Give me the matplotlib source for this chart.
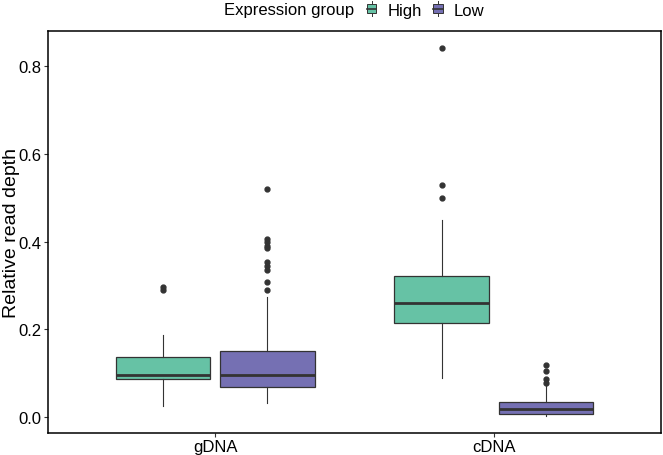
import matplotlib
matplotlib.use("Agg")
import matplotlib.pyplot as plt
from matplotlib.legend_handler import HandlerBase
from matplotlib.patches import Rectangle
from matplotlib.lines import Line2D

plt.rcParams['font.family'] = ['Liberation Sans', 'DejaVu Sans']

# data (box stats per sample type / expression group)
categories = ["gDNA", "cDNA"]
groups = ["High", "Low"]
colors = ["#66C2A5", "#7570B3"]

q1 = {"High": [0.087, 0.214], "Low": [0.068, 0.008]}
med = {"High": [0.097, 0.259], "Low": [0.096, 0.018]}
q3 = {"High": [0.136, 0.322], "Low": [0.151, 0.035]}
wlo = {"High": [0.026, 0.090], "Low": [0.032, 0.003]}
whi = {"High": [0.187, 0.449], "Low": [0.274, 0.072]}
fliers = {
    "High": [[0.296, 0.290], [0.841, 0.528, 0.499]],
    "Low": [[0.520, 0.405, 0.398, 0.390, 0.385, 0.353, 0.345, 0.336, 0.307, 0.290],
            [0.119, 0.104, 0.087, 0.077]],
}

edge = "#333333"

fig = plt.figure(figsize=(6.63, 4.56), dpi=100)
ax = fig.add_axes([0.0724, 0.048, 0.9246, 0.882])

offsets = [-0.1875, 0.1875]
for g, (grp, col) in enumerate(zip(groups, colors)):
    stats = []
    for i in range(len(categories)):
        stats.append(dict(med=med[grp][i], q1=q1[grp][i], q3=q3[grp][i],
                          whislo=wlo[grp][i], whishi=whi[grp][i],
                          fliers=fliers[grp][i]))
    pos = [i + 1 + offsets[g] for i in range(len(categories))]
    ax.bxp(stats, positions=pos, widths=0.34, patch_artist=True,
           showcaps=False,
           boxprops=dict(facecolor=col, edgecolor=edge, linewidth=0.9),
           medianprops=dict(color=edge, linewidth=2),
           whiskerprops=dict(color=edge, linewidth=0.8),
           flierprops=dict(marker="o", markerfacecolor=edge, markeredgecolor=edge,
                           markersize=3.5))

ax.set_xlim(0.4, 2.6)
ax.set_ylim(-0.0365, 0.88)
ax.set_xticks([1, 2])
ax.set_xticklabels(categories)
ax.set_yticks([0.0, 0.2, 0.4, 0.6, 0.8])
ax.set_yticklabels(["0.0", "0.2", "0.4", "0.6", "0.8"])
ax.tick_params(axis="both", labelsize=12, colors="#333333", length=3, width=0.8,
               labelcolor="black", pad=1.5)
ax.set_ylabel("Relative read depth", fontsize=14)
ax.yaxis.set_label_coords(-0.046, 0.5)
for s in ax.spines.values():
    s.set_linewidth(1.1)
    s.set_color("black")


class BoxKey(HandlerBase):
    def create_artists(self, legend, orig_handle, xdescent, ydescent, width, height,
                       fontsize, trans):
        cx = width / 2 - xdescent
        bw = width * 0.8
        r = Rectangle((cx - bw / 2, height * 0.2 - ydescent), bw, height * 0.6,
                      facecolor=orig_handle.get_facecolor(), edgecolor=edge,
                      linewidth=0.7, transform=trans)
        m = Line2D([cx - bw / 2, cx + bw / 2], [height * 0.5 - ydescent] * 2,
                   color=edge, linewidth=1.2, transform=trans)
        w1 = Line2D([cx, cx], [-ydescent, height * 0.2 - ydescent], color=edge,
                    linewidth=0.7, transform=trans)
        w2 = Line2D([cx, cx], [height * 0.8 - ydescent, height - ydescent], color=edge,
                    linewidth=0.7, transform=trans)
        return [r, m, w1, w2]


handles = [Rectangle((0, 0), 1, 1, facecolor=c) for c in colors]
fig.text(0.534, 0.977, "Expression group", ha="right", va="center", fontsize=12)
fig.legend(handles, groups, handler_map={Rectangle: BoxKey()}, loc="center left",
           bbox_to_anchor=(0.552, 0.977), ncol=2, frameon=False, fontsize=12,
           handlelength=0.7, handleheight=1.0, handletextpad=0.6, columnspacing=0.6,
           borderpad=0, borderaxespad=0)

fig.savefig("out.png", dpi=100)
